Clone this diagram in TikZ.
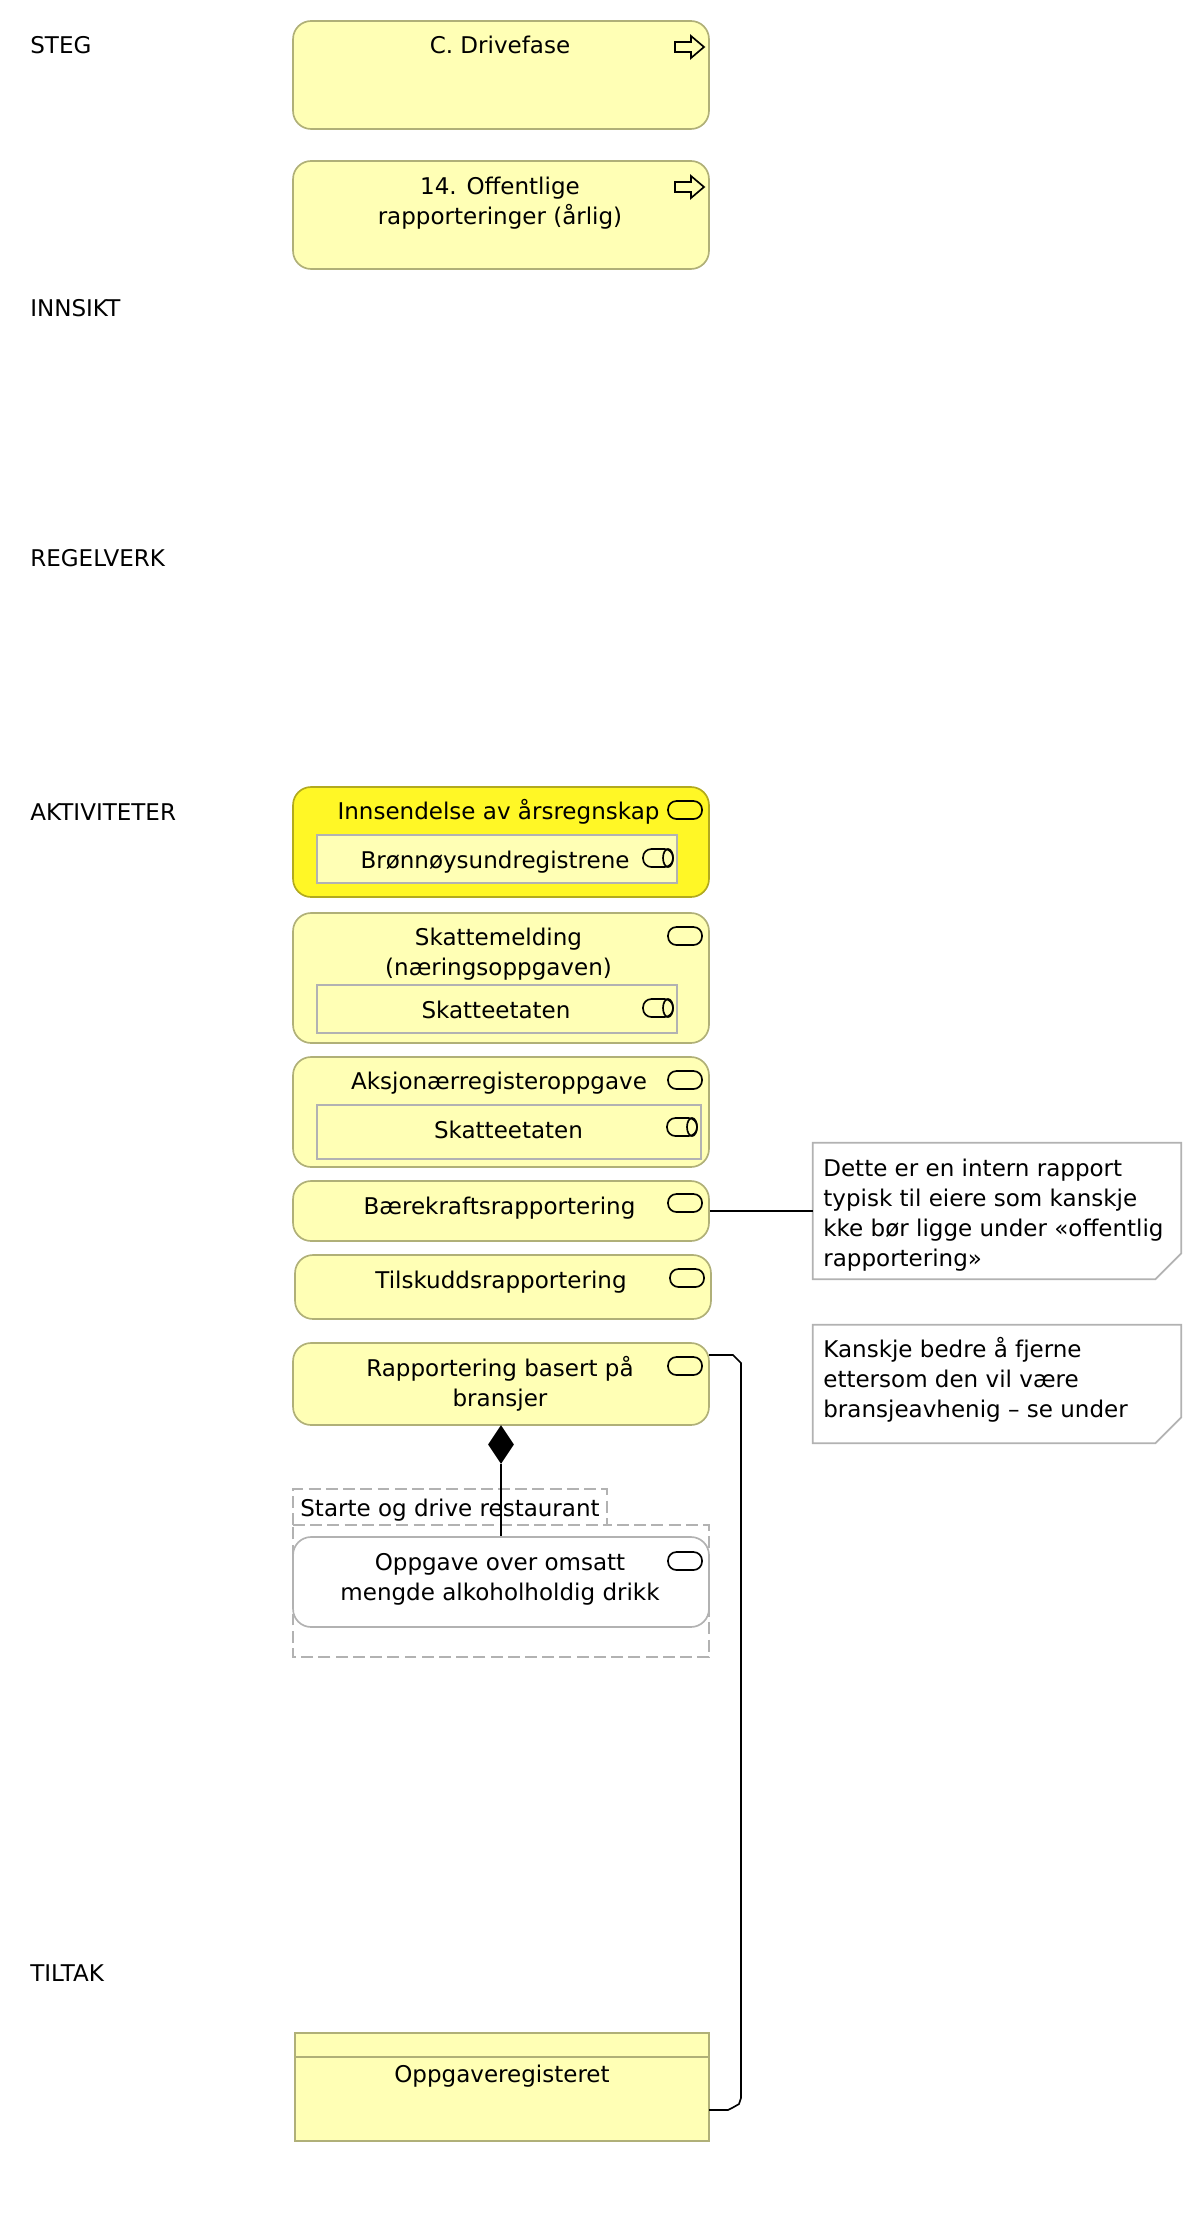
\documentclass[tikz,border=0pt]{standalone}
\usepackage{fontspec}
\setmainfont{DejaVu Sans}
\usepackage{xcolor}
\usepackage{tikz}
\usetikzlibrary{positioning}
\usetikzlibrary{shapes.geometric}
\usetikzlibrary{calc}
\definecolor{paleyellow}{RGB}{255,255,181}
\definecolor{hiyellow}{RGB}{255,247,38}
\definecolor{paleedge}{RGB}{176,176,120}
\definecolor{hiedge}{RGB}{178,170,30}
\definecolor{greyedge}{RGB}{178,178,178}
\tikzset{
  stepbox/.style={draw=paleedge,fill=paleyellow,line width=0.95pt,rounded corners=0.36cm,inner sep=0pt},
  hibox/.style={stepbox,draw=hiedge,fill=hiyellow},
  whitebox/.style={stepbox,draw=greyedge,fill=white},
  actorbox/.style={draw=greyedge,fill=paleyellow,line width=1pt,inner sep=0pt},
  databox/.style={draw=paleedge,fill=paleyellow,line width=1pt,inner sep=0pt},
  txt/.style={anchor=base,inner sep=0pt,align=center,font=\fontsize{13.1}{17}\selectfont},
  lefttxt/.style={txt,anchor=base west,align=left},
  iconline/.style={draw=black,line width=0.95pt},
  noteline/.style={draw=greyedge,line width=1pt},
  link/.style={draw=black,line width=0.95pt}
}
% business process arrow, x y is the middle of the icon
\newcommand{\arrowicon}[2]{
  \draw[iconline] (#1-14,#2-5) -- (#1+2,#2-5) -- (#1+2,#2-11) -- (#1+15,#2) -- (#1+2,#2+11) -- (#1+2,#2+5) -- (#1-14,#2+5) -- cycle;
}
% service pill
\newcommand{\pillicon}[2]{
  \draw[iconline,rounded corners=0.17cm] (#1-17,#2-9) rectangle (#1+17,#2+9);
}
% role cylinder
\newcommand{\roleicon}[2]{
  \draw[iconline,rounded corners=0.17cm] (#1-15,#2-9) rectangle (#1+15,#2+9);
  \draw[iconline] (#1+10,#2) ellipse (0.1cm and 0.18cm);
}
% cut the lower right corner of a note
\newcommand{\notecut}[1]{
  \draw[noteline,fill=white] (#1.north west) -- (#1.north east) -- ($(#1.south east)+(0,-26)$) -- ($(#1.south east)+(-26,0)$) -- (#1.south west) -- cycle;
}

\begin{document}
\begin{tikzpicture}[x=0.02cm,y=-0.02cm]
  \useasboundingbox (0,0) rectangle (1202,2216);
  % column labels
  \node[lefttxt] (steg) at (30,53.5) {STEG};
  \node[lefttxt] (innsikt) at (30,316.5) {INNSIKT};
  \node[lefttxt] (regelverk) at (30,566.5) {REGELVERK};
  \node[lefttxt] (aktiviteter) at (30,820.5) {AKTIVITETER};
  \node[lefttxt] (tiltak) at (30,1981.5) {TILTAK};

  % steps
  \node[stepbox,minimum width=8.32cm,minimum height=2.16cm] (drive) at (501,75) {};
  \node[txt] (drivetxt) at (500,53.5) {C. Drivefase};
  \arrowicon{689}{47}
  \node[stepbox,minimum width=8.32cm,minimum height=2.16cm] (offentlig) at (501,215) {};
  \node[txt] (offentligtxt) at (500,224.5) {14. Offentlige\\rapporteringer (årlig)};
  \arrowicon{689}{187}

  % activities
  \node[hibox,minimum width=8.32cm,minimum height=2.2cm] (aarsregnskap) at (501,842) {};
  \node[txt] (aarsregnskaptxt) at (498.5,819.5) {Innsendelse av årsregnskap};
  \pillicon{685}{810}
  \node[actorbox,minimum width=7.2cm,minimum height=0.96cm] (bronnoy) at (497,859) {};
  \node[txt] (bronnoytxt) at (495,868.5) {Brønnøysundregistrene};
  \roleicon{658}{858}

  \node[stepbox,minimum width=8.32cm,minimum height=2.6cm] (skattemelding) at (501,978) {};
  \node[txt] (skattemeldingtxt) at (498.5,975.5) {Skattemelding\\(næringsoppgaven)};
  \pillicon{685}{936}
  \node[actorbox,minimum width=7.2cm,minimum height=0.96cm] (skatt) at (497,1009) {};
  \node[txt] (skatttxt) at (496,1018.5) {Skatteetaten};
  \roleicon{658}{1008}

  \node[stepbox,minimum width=8.32cm,minimum height=2.2cm] (aksjonaer) at (501,1112) {};
  \node[txt] (aksjonaertxt) at (499,1089.5) {Aksjonærregisteroppgave};
  \pillicon{685}{1080}
  \node[actorbox,minimum width=7.68cm,minimum height=1.08cm] (skattb) at (509,1132) {};
  \node[txt] (skattbtxt) at (508.5,1138.5) {Skatteetaten};
  \roleicon{682}{1127}

  \node[stepbox,minimum width=8.32cm,minimum height=1.2cm] (baere) at (501,1211) {};
  \node[txt] (baeretxt) at (499.5,1214.5) {Bærekraftsrapportering};
  \pillicon{685}{1203}

  \node[stepbox,minimum width=8.32cm,minimum height=1.28cm] (tilskudd) at (503,1287) {};
  \node[txt] (tilskuddtxt) at (501,1288.5) {Tilskuddsrapportering};
  \pillicon{687}{1278}

  \node[stepbox,minimum width=8.32cm,minimum height=1.64cm] (bransjer) at (501,1384) {};
  \node[txt] (bransjertxt) at (500,1406.5) {Rapportering basert på\\bransjer};
  \pillicon{685}{1366}

  % group with tab
  \draw[noteline,dash pattern=on 6.8pt off 3pt] (293,1525) -- (293,1489) -- (607,1489) -- (607,1525) -- (709,1525) -- (709,1657) -- (293,1657) -- cycle;
  \draw[noteline,dash pattern=on 6.8pt off 3pt] (293,1525) -- (607,1525);
  \node[txt] (restauranttxt) at (450,1516.5) {Starte og drive restaurant};
  \node[whitebox,minimum width=8.32cm,minimum height=1.8cm] (omsatt) at (501,1582) {};
  \node[txt] (omsatttxt) at (500,1600.5) {Oppgave over omsatt\\mengde alkoholholdig drikk};
  \pillicon{685}{1561}

  % notes
  \node[minimum width=7.36cm,minimum height=2.72cm,inner sep=0pt] (notea) at (997,1211) {};
  \notecut{notea}
  \node[lefttxt] (noteatxt) at (823,1266.5) {Dette er en intern rapport\\typisk til eiere som kanskje\\kke bør ligge under «offentlig\\rapportering»};
  \node[minimum width=7.36cm,minimum height=2.36cm,inner sep=0pt] (noteb) at (997,1384) {};
  \notecut{noteb}
  \node[lefttxt] (notebtxt) at (823,1417.5) {Kanskje bedre å fjerne\\ettersom den vil være\\bransjeavhenig – se under};

  % application component
  \node[databox,minimum width=8.28cm,minimum height=2.16cm] (register) at (502,2087) {};
  \draw[draw=paleedge,line width=1pt] (295,2057) -- (709,2057);
  \node[txt] (registertxt) at (502,2082.5) {Oppgaveregisteret};

  % connectors
  \node[diamond,fill=black,inner sep=0pt,minimum width=0.52cm,minimum height=0.78cm] (compdia) at (501,1444.5) {};
  \draw[link] (compdia.south) -- (omsatt.north);
  \draw[link] (baere.east) -- (notea.west);
  \coordinate (bransjerout) at (709,1355);
  \coordinate (registerout) at (709,2110);
  \draw[link] (bransjerout) -- (733,1355) -- (741,1363) -- (741,2098) -- (739,2104) -- (732,2108) -- (728,2110) -- (registerout);
\end{tikzpicture}
\end{document}
